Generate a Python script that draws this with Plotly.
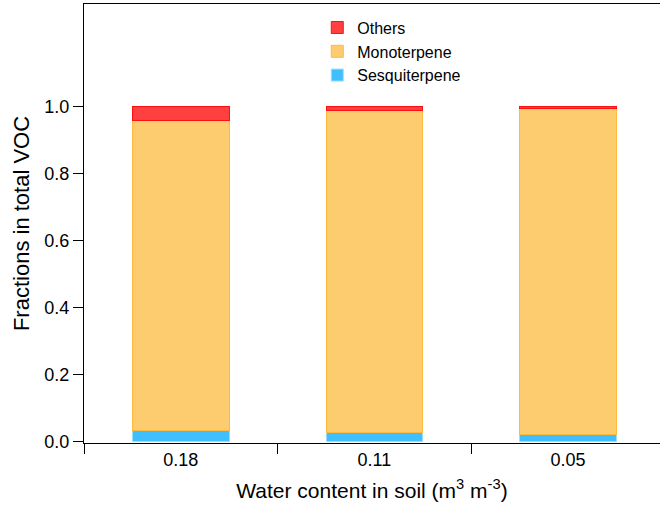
import plotly.graph_objects as go

# Soil water content categories (m3 m-3)
categories = ["0.18", "0.11", "0.05"]

# Fractions of total VOC per compound class
sesquiterpene = [0.033, 0.027, 0.020]
monoterpene = [0.925, 0.961, 0.974]
others = [0.042, 0.012, 0.006]

y_ticks = [0.0, 0.2, 0.4, 0.6, 0.8, 1.0]

font_family = "Liberation Sans, Arial, sans-serif"

fig = go.Figure()
fig.add_trace(go.Bar(
    x=categories, y=sesquiterpene, name="Sesquiterpene",
    marker=dict(color="#40BFFF", line=dict(color="#9ADFFF", width=1)),
))
fig.add_trace(go.Bar(
    x=categories, y=monoterpene, name="Monoterpene",
    marker=dict(color="#FDCC6E", line=dict(color="#FDBA40", width=1)),
))
fig.add_trace(go.Bar(
    x=categories, y=others, name="Others",
    marker=dict(color="#FF4040", line=dict(color="#FF1010", width=1)),
))

fig.update_layout(
    width=660, height=514,
    margin=dict(l=84, r=0, t=4, b=71),
    barmode="stack",
    bargap=0.5,
    plot_bgcolor="white",
    paper_bgcolor="white",
    font=dict(family=font_family, size=18, color="black"),
    legend=dict(
        x=0.405, y=0.985, xanchor="left", yanchor="top",
        traceorder="reversed",
        font=dict(size=16),
        tracegroupgap=0,
        bgcolor="rgba(0,0,0,0)",
    ),
    xaxis=dict(
        type="category",
        range=[-0.5, 2.475],
        tickson="boundaries",
        ticks="outside", ticklen=10, tickwidth=1, tickcolor="black",
        showline=True, linecolor="black", linewidth=1,
        mirror=True,
        showgrid=False,
        title=dict(text="Water content in soil (m<sup>3</sup> m<sup>-3</sup>)",
                   font=dict(size=21), standoff=14),
        tickfont=dict(size=18),
    ),
    yaxis=dict(
        range=[-0.005, 1.305],
        tickvals=y_ticks,
        ticktext=[f"{v:.1f}" for v in y_ticks],
        ticks="outside", ticklen=10, tickwidth=1, tickcolor="black",
        showline=True, linecolor="black", linewidth=1,
        showgrid=False, zeroline=False,
        title=dict(text="Fractions in total VOC", font=dict(size=22), standoff=8),
        tickfont=dict(size=18),
    ),
)

fig.write_html("out.html")
